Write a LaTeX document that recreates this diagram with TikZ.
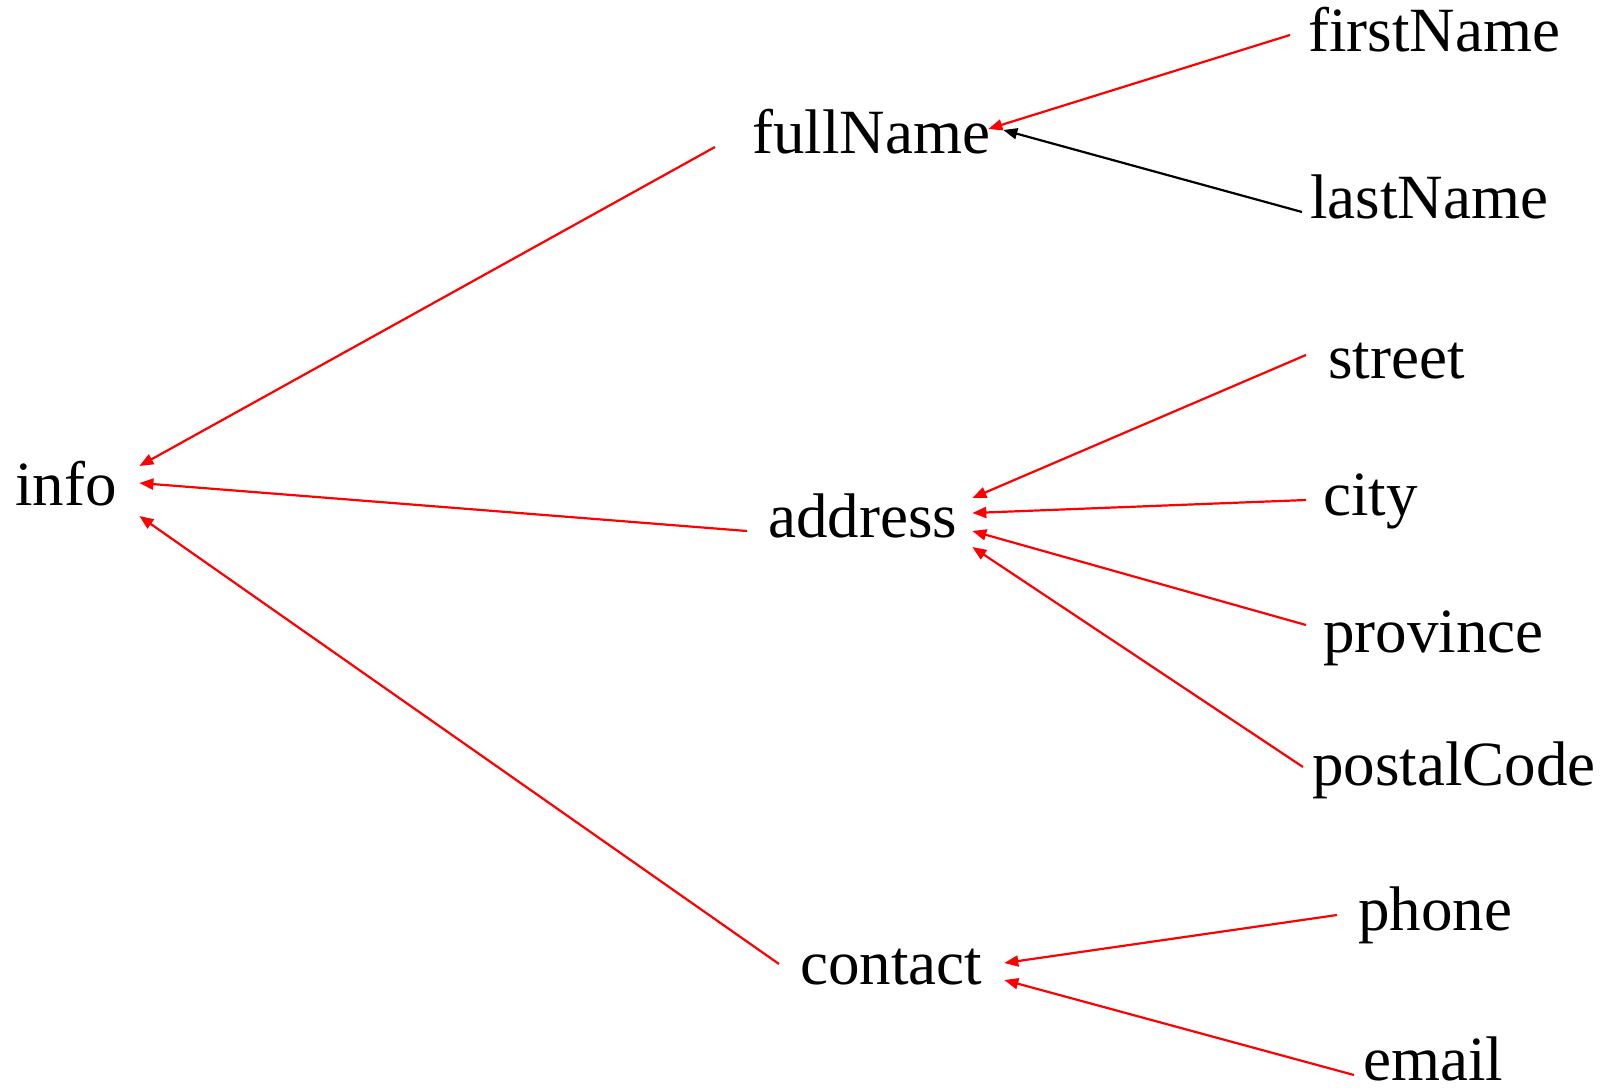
\documentclass[tikz,border=0pt]{standalone}
\usepackage{fontspec}
\setmainfont{Liberation Serif}
\usetikzlibrary{arrows.meta}

\begin{document}
\begin{tikzpicture}[x=1pt, y=-1pt]
   \tikzstyle{every node}=[inner sep=0pt, anchor=base west, font=\fontsize{63}{75}\selectfont]
   \tikzstyle{link}=[line width=2.2pt, red, -{Triangle[length=14pt, width=11pt]}]
   \tikzstyle{plain link}=[link, black]

\useasboundingbox (0,0) rectangle (1613,1087);

\node (info) at (15,505) {info};
\node (fullName) at (752,153) {fullName};
\node (address) at (768,537) {address};
\node (contact) at (800,984) {contact};
\node (firstName) at (1308,51) {firstName};
\node (lastName) at (1310,218) {lastName};
\node (street) at (1328,378) {street};
\node (city) at (1323,515) {city};
\node (province) at (1323,652) {province};
\node (postalCode) at (1312,785) {postalCode};
\node (phone) at (1358,930) {phone};
\node (email) at (1363,1080) {email};

\draw[link] ([shift={(-18,-16)}]firstName.base west) -- ([shift={(-2,-24)}]fullName.base east);
\draw[plain link] ([shift={(-8,-6)}]lastName.base west) -- ([shift={(13,-23)}]fullName.base east);
\draw[link] ([shift={(-37,-6)}]fullName.base west) -- ([shift={(22.5,-39)}]info.base east);
\draw[link] ([shift={(-21,-6)}]address.base west) -- ([shift={(22.5,-22)}]info.base east);
\draw[link] ([shift={(-21,-20)}]contact.base west) -- ([shift={(22.5,11)}]info.base east);
\draw[link] ([shift={(-22,-23)}]street.base west) -- ([shift={(15,-39)}]address.base east);
\draw[link] ([shift={(-17,-15)}]city.base west) -- ([shift={(15,-24)}]address.base east);
\draw[link] ([shift={(-17,-27)}]province.base west) -- ([shift={(15,-6)}]address.base east);
\draw[link] ([shift={(-9,-18)}]postalCode.base west) -- ([shift={(15,10)}]address.base east);
\draw[link] ([shift={(-21,-15)}]phone.base west) -- ([shift={(22,-21)}]contact.base east);
\draw[link] ([shift={(-9,-5)}]email.base west) -- ([shift={(22,-4)}]contact.base east);

\end{tikzpicture}
\end{document}
